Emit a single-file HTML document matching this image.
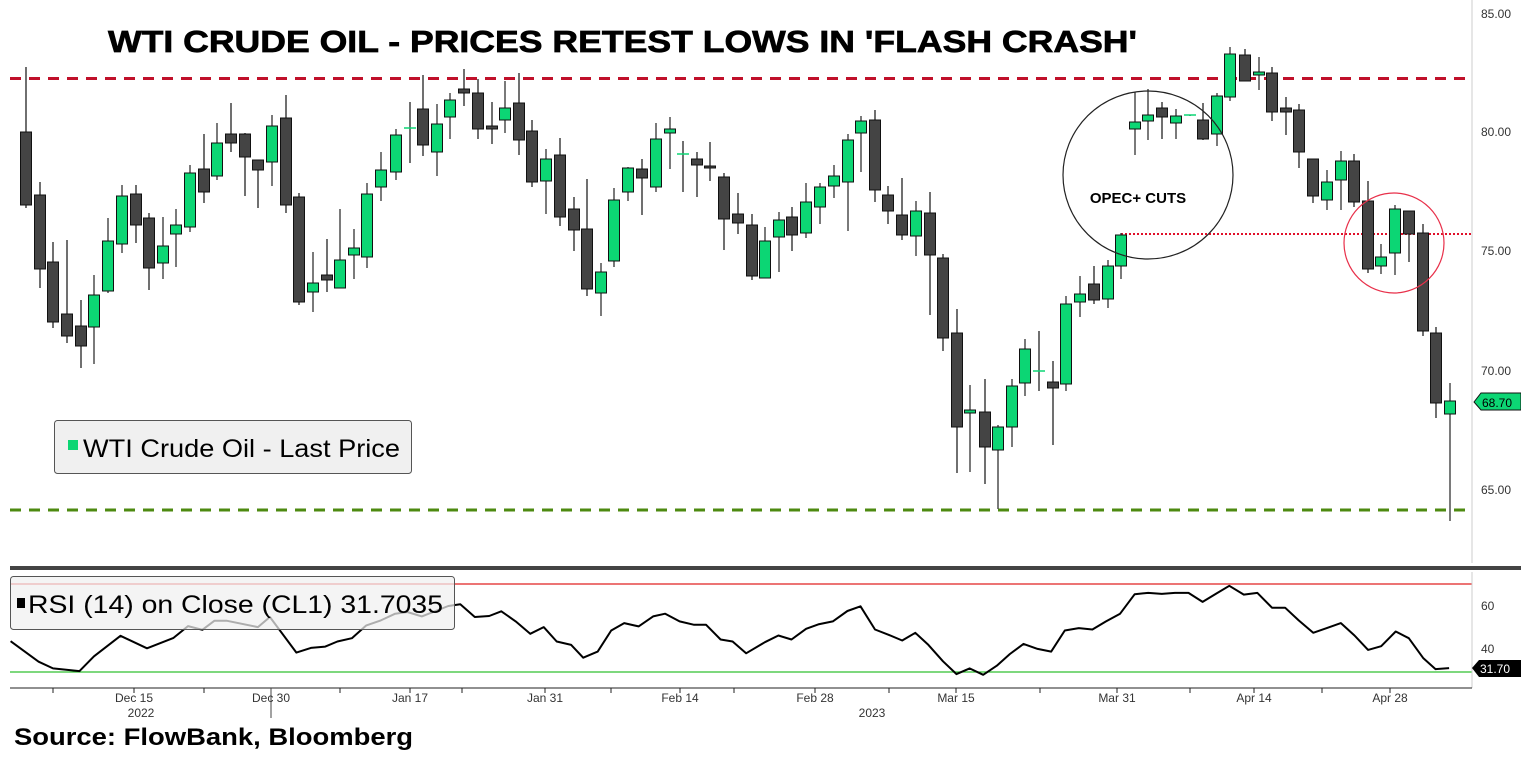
<!DOCTYPE html>
<html><head><meta charset="utf-8"><style>
html,body{margin:0;padding:0;background:#fff;}
svg{display:block;font-family:"Liberation Sans",sans-serif;}
</style></head><body>
<svg id="s" width="1521" height="758" viewBox="0 0 1521 758" xmlns="http://www.w3.org/2000/svg">
<rect width="1521" height="758" fill="#fff"/>
<g id="g"></g>
</svg>
<script>
const NS="http://www.w3.org/2000/svg";
const g=document.getElementById('g');
function el(t,a,txt){const e=document.createElementNS(NS,t);for(const k in a)e.setAttribute(k,a[k]);if(txt!==undefined)e.textContent=txt;g.appendChild(e);return e;}
el('text',{x:108,y:52,'font-size':31,'font-weight':'bold',textLength:1029,lengthAdjust:'spacingAndGlyphs',fill:'#000',stroke:'#000','stroke-width':0.7},"WTI CRUDE OIL - PRICES RETEST LOWS IN 'FLASH CRASH'");
el('line',{x1:1472,y1:0,x2:1472,y2:563,stroke:'#ccc','stroke-width':1});
el('line',{x1:10,y1:78.5,x2:1472,y2:78.5,stroke:'#c0102a','stroke-width':3,'stroke-dasharray':'11,8'});
el('line',{x1:10,y1:510,x2:1472,y2:510,stroke:'#4d8a10','stroke-width':3,'stroke-dasharray':'11,8'});
el('line',{x1:1121,y1:234,x2:1472,y2:234,stroke:'#e0102a','stroke-width':2,'stroke-dasharray':'2,2'});
[[85,14],[80,132],[75,251],[70,371],[65,490]].forEach(([v,y])=>el('text',{x:1481,y:y+4,'font-size':12,fill:'#333'},v.toFixed(2)));
const C=[[26,132,205,67,208,0],[40,195,269,182,288,0],[53,262,322,242,328,0],[67,314,336,240,343,0],[81,326,346,300,368,0],[94,295,327,275,364,1],[108,241,291,218,293,1],[122,196,244,185,253,1],[136,194,225,185,243,0],[149,218,268,213,290,0],[163,246,263,217,279,1],[176,225,234,209,267,1],[190,173,227,165,232,1],[204,169,192,134,203,0],[217,143,176,123,180,1],[231,134,143,103,152,0],[245,134,157,133,196,0],[258,160,170,160,208,0],[272,126,162,115,186,1],[286,118,205,95,213,0],[299,197,302,193,305,0],[313,283,292,252,312,1],[327,275,280,239,292,0],[340,260,288,209,288,1],[354,248,255,229,279,1],[367,194,257,183,268,1],[381,170,187,152,201,1],[396,135,172,129,180,1],[410,128,130,102,163,2],[423,109,145,75,156,0],[437,124,152,104,176,1],[450,100,117,93,139,1],[464,89,93,69,106,0],[478,93,129,79,139,0],[492,126,129,102,144,0],[505,108,120,81,133,1],[519,103,140,73,155,0],[532,131,182,120,187,0],[546,159,181,149,214,1],[560,155,217,138,226,0],[574,209,230,197,251,0],[587,229,289,179,296,0],[601,272,293,263,316,1],[614,200,261,188,267,1],[628,168,192,167,201,1],[642,169,178,159,215,0],[656,139,187,123,192,1],[670,129,133,117,169,1],[683,154,155,141,192,2],[697,159,165,152,197,0],[710,166,168,142,181,0],[724,177,219,173,250,0],[738,214,223,193,234,0],[752,225,276,214,280,0],[765,241,278,227,278,1],[779,220,237,212,272,1],[792,217,235,207,251,0],[806,202,233,183,238,1],[820,187,207,183,224,1],[834,176,186,165,198,1],[848,140,182,134,231,1],[861,121,133,116,172,1],[875,120,190,110,202,0],[888,195,211,186,224,0],[902,215,235,178,240,0],[916,211,236,201,256,1],[930,213,255,192,315,0],[943,258,338,254,351,0],[957,333,427,309,473,0],[970,410,413,385,472,1],[985,412,447,379,484,0],[998,427,450,425,509,1],[1012,386,427,379,447,1],[1025,349,383,339,396,1],[1039,371,372,331,391,2],[1053,382,388,361,445,0],[1066,304,384,296,391,1],[1080,294,302,276,317,1],[1094,284,300,266,304,0],[1108,266,299,260,308,1],[1121,235,266,233,279,1],[1135,122,129,92,155,1],[1148,115,121,89,140,1],[1162,108,117,102,139,0],[1176,116,123,109,139,1],[1190,115,116,115,116,2],[1203,120,139,103,140,0],[1217,96,134,93,146,1],[1230,54,97,47,101,1],[1245,55,81,49,81,0],[1259,72,75,57,90,1],[1272,73,112,67,121,0],[1286,108,112,97,135,0],[1299,110,152,104,168,0],[1313,159,196,159,203,0],[1327,182,200,170,210,1],[1341,161,180,151,210,1],[1354,161,202,154,207,0],[1368,201,269,181,273,0],[1381,257,266,244,274,1],[1395,209,253,205,275,1],[1409,211,234,211,262,0],[1423,233,331,224,336,0],[1436,333,403,327,418,0],[1450,401,414,383,521,1]];
const GR='#0cd674',DK='#444';
C.forEach(([x,t,b,h,l,c])=>{
 el('line',{x1:x,y1:h,x2:x,y2:l,stroke:c==1?'#333':'#222','stroke-width':1.3});
 if(c==2){el('line',{x1:x-6,y1:t,x2:x+6,y2:t,stroke:GR,'stroke-width':1.5});return;}
 el('rect',{x:x-5.5,y:t,width:11,height:Math.max(b-t,2),fill:c?GR:DK,stroke:'#111','stroke-width':1});
});
el('ellipse',{cx:1148,cy:175,rx:85,ry:84,fill:'none',stroke:'#222','stroke-width':1.2});
el('text',{x:1138,y:203,'font-size':15,'font-weight':'bold','text-anchor':'middle',fill:'#000'},'OPEC+ CUTS');
el('ellipse',{cx:1394,cy:243,rx:50,ry:50,fill:'none',stroke:'#e8304a','stroke-width':1.2});
el('path',{d:'M1474,402 L1481,393 L1521,393 L1521,410 L1481,410 Z',fill:GR,stroke:'#111','stroke-width':1});
el('text',{x:1482,y:407,'font-size':12,fill:'#000'},'68.70');
el('rect',{x:54.5,y:420.5,width:357,height:53,rx:3,fill:'#f0f0f0',stroke:'#555','stroke-width':1});
el('rect',{x:68,y:440,width:10,height:10,fill:GR});
el('text',{x:83,y:457,'font-size':25,textLength:317,lengthAdjust:'spacingAndGlyphs',fill:'#000'},'WTI Crude Oil - Last Price');
el('rect',{x:10,y:566,width:1511,height:4,fill:'#444'});
el('line',{x1:10,y1:584,x2:1472,y2:584,stroke:'#e02020','stroke-width':1.2});
el('line',{x1:10,y1:672,x2:1472,y2:672,stroke:'#30c030','stroke-width':1.2});
el('line',{x1:1472,y1:572,x2:1472,y2:688,stroke:'#ccc'});
el('line',{x1:10,y1:688,x2:1472,y2:688,stroke:'#222','stroke-width':1});
const R5=[[22,242],[80,303],[110,323],[165,331],[195,287],[250,226],[305,263],[360,232],[390,197],[420,208],[445,181],[470,181],[535,200],[560,170],[615,276],[645,262],[675,258],[700,243],[730,233],[760,195],[790,180],[820,160],[845,155],[875,168],[930,137],[955,132],[985,170],[1015,167],[1040,153],[1070,183],[1100,220],[1128,200],[1155,243],[1185,253],[1210,291],[1240,273],[1268,210],[1295,188],[1325,198],[1355,168],[1380,160],[1410,183],[1440,193],[1465,193],[1495,237],[1520,243],[1548,278]];
const R6=[[10,245],[38,225],[65,237],[95,205],[120,192],[150,183],[180,152],[207,138],[237,207],[265,223],[293,240],[320,217],[347,253],[377,302],[405,340],[432,323],[460,342],[488,315],[515,280],[543,250],[572,265],[600,273],[628,210],[657,203],[685,207],[713,183],[742,160],[772,102],[800,98],[828,101],[855,98],[883,98],[912,125],[940,100],[967,77],[997,103],[1025,98],[1055,142],[1082,142],[1110,180],[1140,217],[1168,203],[1197,188],[1225,225],[1253,268],[1280,257],[1310,213],[1337,233],[1367,293],[1392,325],[1420,322]];
let pts=R5.map(([x,y])=>[(x*0.482),560+y/2.98]).concat(R6.map(([x,y])=>[760+x*0.4853,560+y/2.98]));
el('polyline',{points:pts.map(p=>p[0].toFixed(1)+','+p[1].toFixed(1)).join(' '),fill:'none',stroke:'#000','stroke-width':2,'stroke-linejoin':'round'});
el('text',{x:1481,y:610,'font-size':12,fill:'#333'},'60');
el('text',{x:1481,y:653,'font-size':12,fill:'#333'},'40');
el('path',{d:'M1472,668 L1479,660 L1521,660 L1521,677 L1479,677 Z',fill:'#000'});
el('text',{x:1480,y:673,'font-size':12,fill:'#fff'},'31.70');
el('rect',{x:10.5,y:576.5,width:444,height:53,rx:3,fill:'rgba(240,240,240,0.72)',stroke:'#555','stroke-width':1});
el('rect',{x:17,y:598,width:8,height:10,fill:'#000'});
el('text',{x:28,y:613,'font-size':25,textLength:415,lengthAdjust:'spacingAndGlyphs',fill:'#000'},'RSI (14)  on Close (CL1) 31.7035');
[53,134,204,271,340,410,462,545,611,680,734,815,889,956,1040,1117,1190,1254,1322,1390].forEach(x=>el('line',{x1:x,y1:688,x2:x,y2:693,stroke:'#222'}));
el('line',{x1:271,y1:688,x2:271,y2:718,stroke:'#444'});
[['Dec 15',134],['Dec 30',271],['Jan 17',410],['Jan 31',545],['Feb 14',680],['Feb 28',815],['Mar 15',956],['Mar 31',1117],['Apr 14',1254],['Apr 28',1390]].forEach(([t,x])=>el('text',{x:x,y:702,'font-size':12,'text-anchor':'middle',fill:'#333'},t));
el('text',{x:141,y:717,'font-size':12,'text-anchor':'middle',fill:'#333'},'2022');
el('text',{x:872,y:717,'font-size':12,'text-anchor':'middle',fill:'#333'},'2023');
el('text',{x:14,y:745,'font-size':24,'font-weight':'bold',textLength:399,lengthAdjust:'spacingAndGlyphs',fill:'#000'},'Source: FlowBank, Bloomberg');
</script>
</body></html>
